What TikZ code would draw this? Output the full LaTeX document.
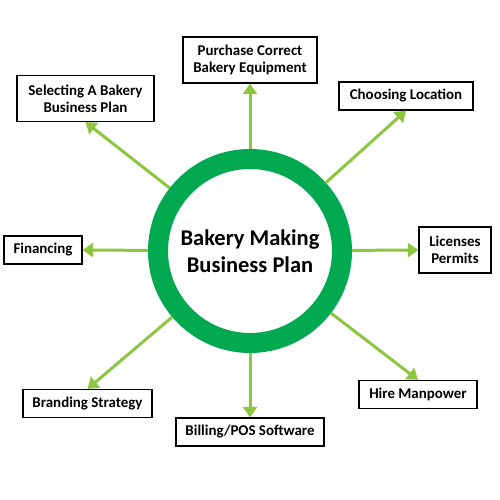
\documentclass[tikz,border=0pt]{standalone}
\usepackage{fontspec}
\setmainfont{Carlito}
\usetikzlibrary{arrows.meta}
\definecolor{ringgreen}{RGB}{0,168,80}
\definecolor{arrgreen}{RGB}{141,198,63}
\tikzset{
  hub/.style={circle, draw=ringgreen, line width=0.4cm, fill=white,
              minimum size=3.68cm, align=center,
              font=\fontsize{12.8}{15.3}\selectfont\bfseries},
  item/.style={rectangle, draw, line width=0.7pt, fill=white,
               minimum height=0.56cm, align=center, inner sep=2pt,
               font=\fontsize{8.5}{9.8}\selectfont\bfseries},
  tall/.style={item, minimum height=0.92cm},
  arr/.style={-{Triangle[length=6pt,width=8pt]}, draw=arrgreen,
              line width=1.7pt},
}
\begin{document}
\begin{tikzpicture}
  \useasboundingbox[fill=white] (0,0) rectangle (10,10);
  % spokes first, hub on top
  \node[tall, minimum width=2.68cm] (purchase) at (5.0,8.8) {Purchase Correct\\Bakery Equipment};
  \node[tall, minimum width=2.74cm] (select) at (1.71,8.03) {Selecting A Bakery\\Business Plan};
  \node[item, minimum width=2.68cm] (location) at (8.12,8.08) {Choosing Location};
  \node[item, minimum width=1.56cm] (finance) at (0.86,5.0) {Financing};
  \node[tall, minimum width=1.44cm] (license) at (9.1,5.0) {Licenses\\Permits};
  \node[item, minimum width=2.58cm] (brand) at (1.75,1.93) {Branding Strategy};
  \node[item, minimum width=2.96cm] (billing) at (5.0,1.36) {Billing/POS Software};
  \node[item, minimum width=2.36cm] (hire) at (8.36,2.11) {Hire Manpower};

  \node[hub] (plan) at (5.0,4.98) {Bakery Making\\Business Plan};

  \draw[arr] (plan) -- (purchase.south);
  \draw[arr] (plan) -- (select.south);
  \draw[arr] (plan) -- (location.south);
  \draw[arr] (plan) -- (finance.east);
  \draw[arr] (plan) -- (license.west);
  \draw[arr] (plan) -- (brand.north);
  \draw[arr] (plan) -- (billing.north);
  \draw[arr] (plan) -- (hire.north);
\end{tikzpicture}
\end{document}
